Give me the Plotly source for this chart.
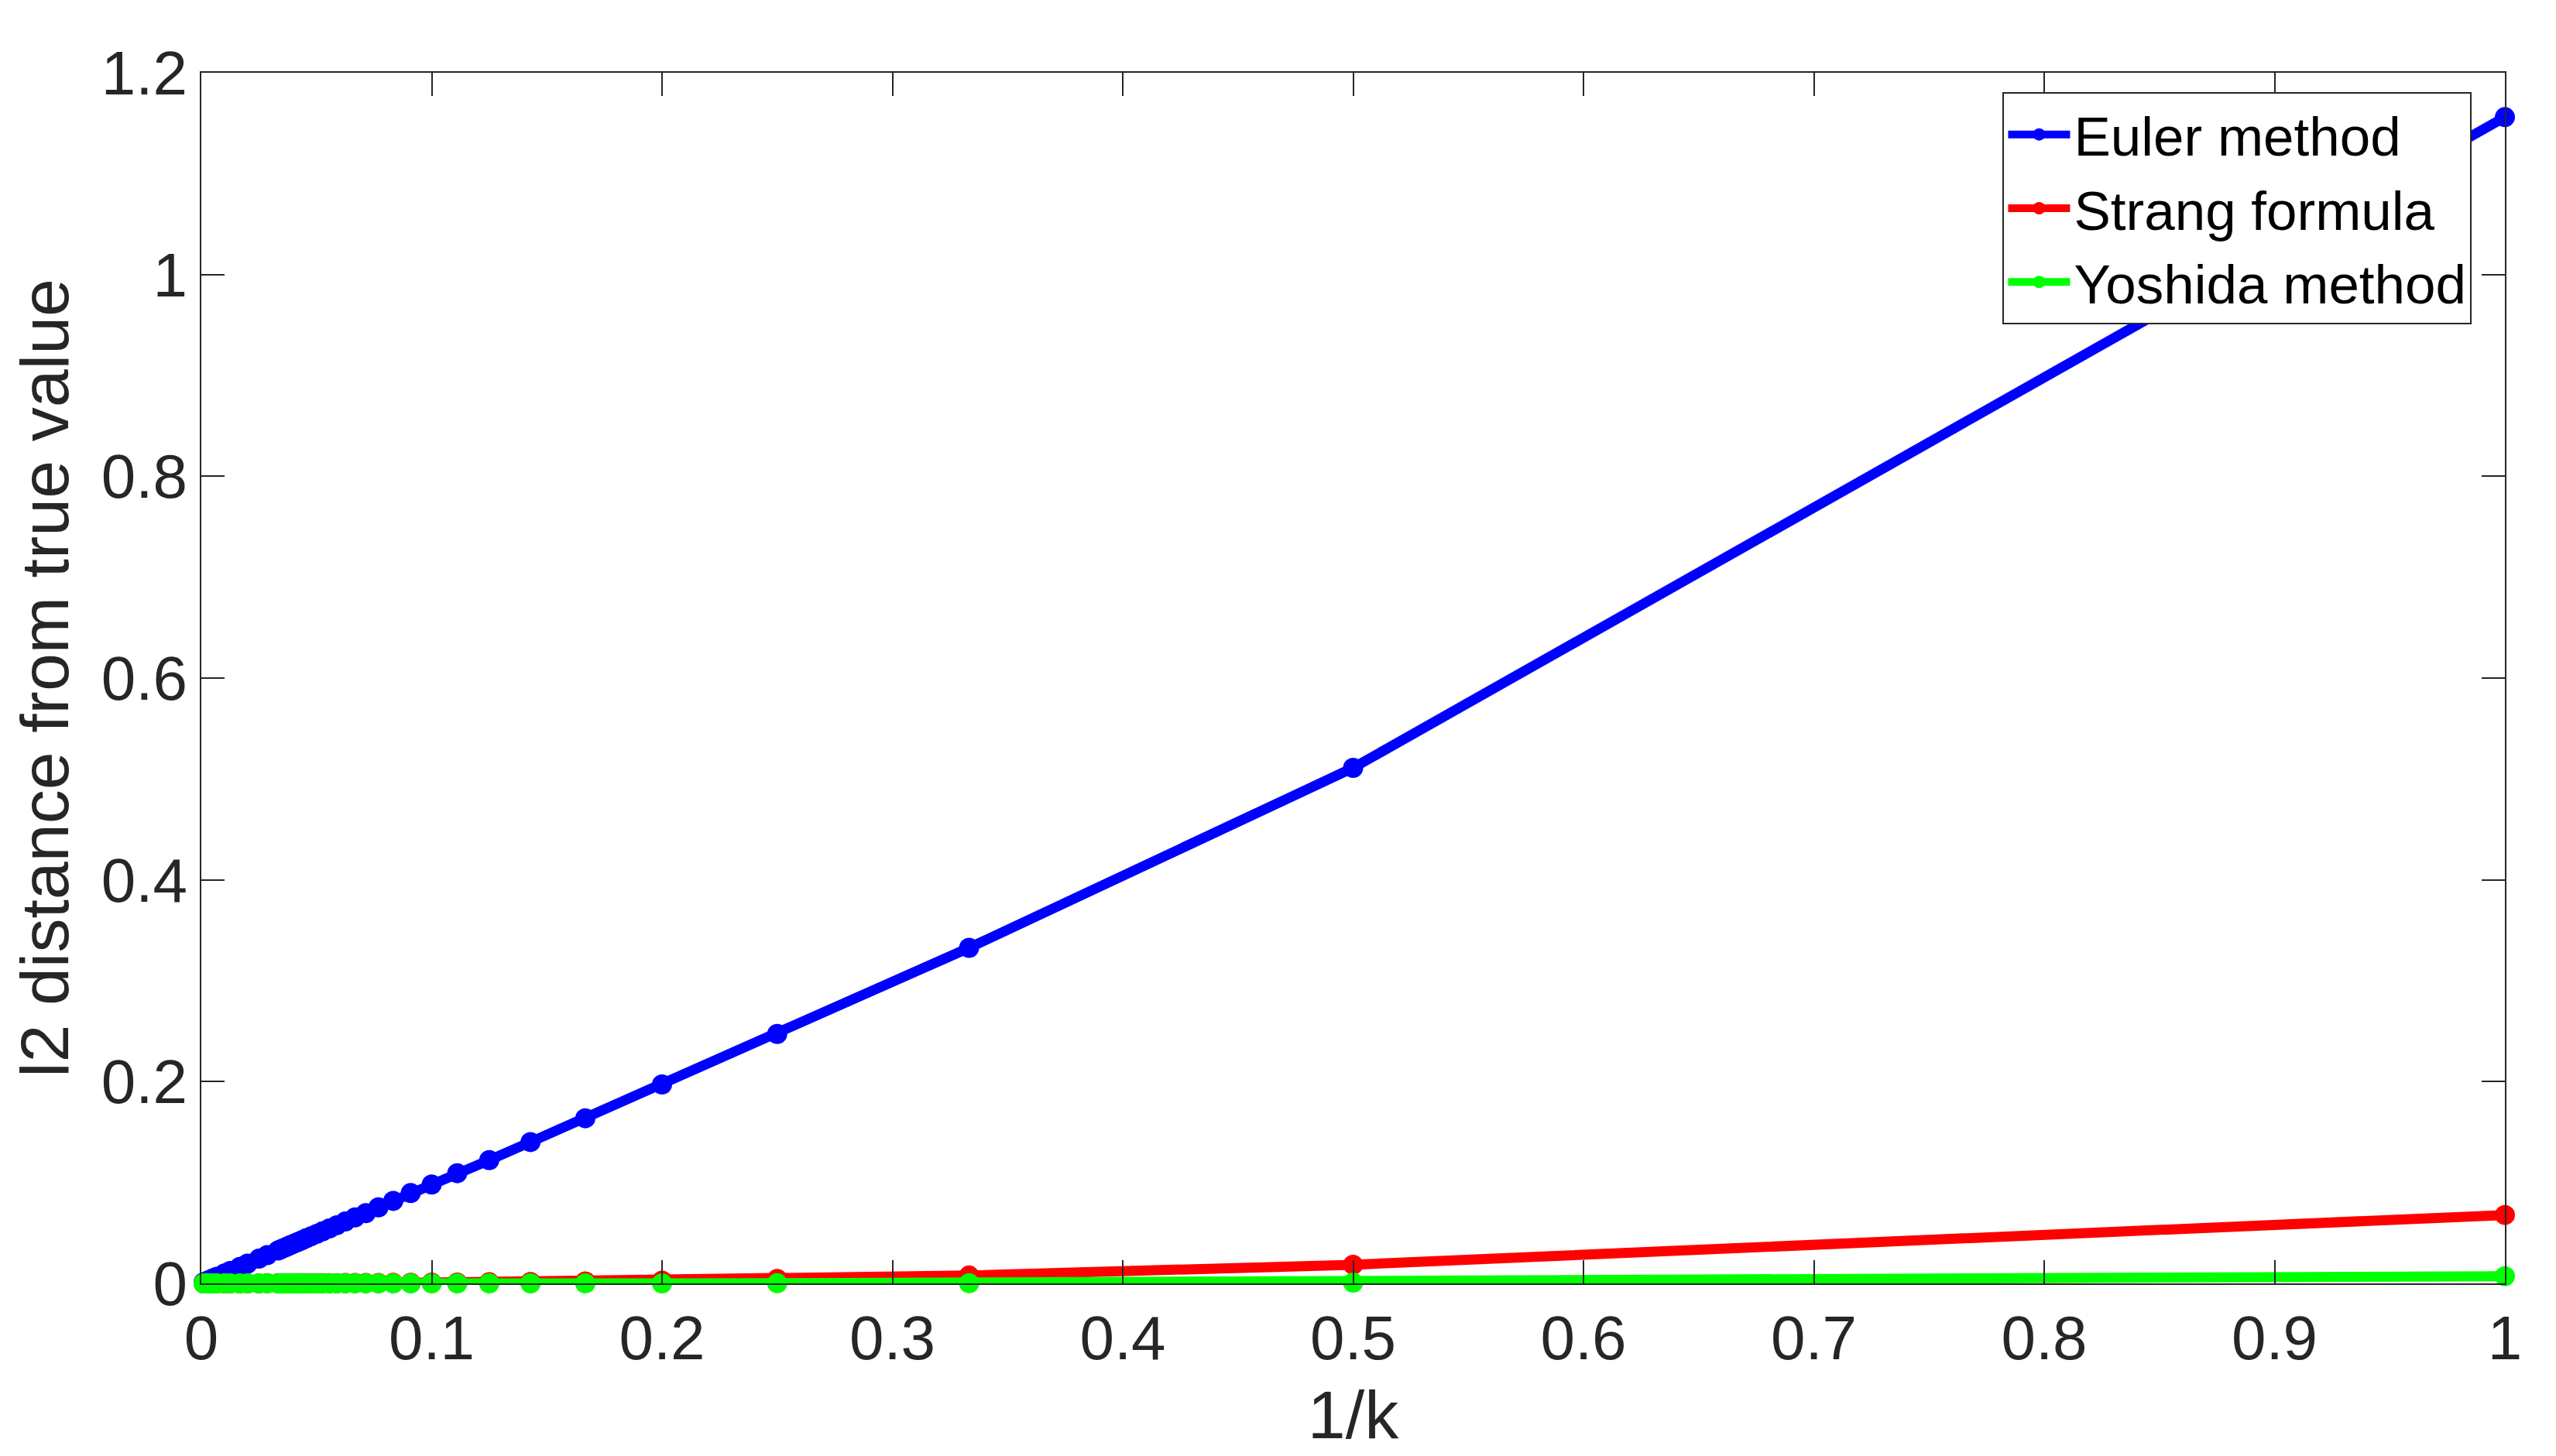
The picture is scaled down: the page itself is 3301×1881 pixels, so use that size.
import plotly.graph_objects as go

# 1/k values (k = 1..30, then a sparser tail towards 0)
inv_k = [1.0, 0.5, 0.3333, 0.25, 0.2, 0.1667, 0.1429, 0.125, 0.1111, 0.1,
         0.0909, 0.0833, 0.0769, 0.0714, 0.0667, 0.0625, 0.0588, 0.0556, 0.0526, 0.05,
         0.0476, 0.0455, 0.0435, 0.0417, 0.04, 0.0385, 0.037, 0.0357, 0.0345, 0.0333,
         0.0286, 0.025, 0.02, 0.0167, 0.0125, 0.01, 0.0067, 0.005, 0.0033, 0.002, 0.001]

euler = [1.156, 0.511, 0.3326, 0.2473, 0.1972, 0.1637, 0.1401, 0.1222, 0.1092, 0.098,
         0.0895, 0.0818, 0.0754, 0.0696, 0.0654, 0.0613, 0.0576, 0.0545, 0.0516, 0.049,
         0.0467, 0.0446, 0.0426, 0.0409, 0.0392, 0.0377, 0.0363, 0.035, 0.0338, 0.0326,
         0.028, 0.0245, 0.0196, 0.0164, 0.0123, 0.0098, 0.0066, 0.0049, 0.0032, 0.002, 0.001]

strang = [0.0678, 0.0185, 0.0078, 0.0045, 0.0027, 0.0019, 0.0014, 0.0011, 0.0008, 0.0007,
          0.0006, 0.0005, 0.0004, 0.0003, 0.0003, 0.0003, 0.0002, 0.0002, 0.0002, 0.0002,
          0.0002, 0.0001, 0.0001, 0.0001, 0.0001, 0.0001, 0.0001, 0.0001, 0.0001, 0.0001,
          0.0001, 0.0, 0.0, 0.0, 0.0, 0.0, 0.0, 0.0, 0.0, 0.0, 0.0]

yoshida = [0.0071, 0.0008, 0.0002, 0.0001, 0.0, 0.0, 0.0, 0.0, 0.0, 0.0,
           0.0, 0.0, 0.0, 0.0, 0.0, 0.0, 0.0, 0.0, 0.0, 0.0,
           0.0, 0.0, 0.0, 0.0, 0.0, 0.0, 0.0, 0.0, 0.0, 0.0,
           0.0, 0.0, 0.0, 0.0, 0.0, 0.0, 0.0, 0.0, 0.0, 0.0, 0.0]

nombres = ["Euler method", "Strang formula", "Yoshida method"]
colores = ["#0000FF", "#FF0000", "#00FF00"]

FUENTE = "Liberation Sans, Arial, Helvetica, sans-serif"
GRIS = "#262626"

fig = go.Figure()
for serie, nombre, color in zip([euler, strang, yoshida], nombres, colores):
    fig.add_trace(go.Scatter(x=inv_k, y=serie, name=nombre, mode="lines+markers",
                             line=dict(color=color, width=13),
                             marker=dict(color=color, size=26),
                             cliponaxis=False))

ejes = dict(showline=True, linecolor=GRIS, linewidth=2, mirror="ticks",
            ticks="inside", ticklen=30, tickwidth=2, tickcolor=GRIS,
            showgrid=False, zeroline=False, automargin=False,
            tickfont=dict(family=FUENTE, size=80, color=GRIS))

fig.update_xaxes(range=[0, 1], dtick=0.1, title=dict(text="1/k", standoff=24,
                 font=dict(family=FUENTE, size=88, color=GRIS)), **ejes)
fig.update_yaxes(range=[0, 1.2], dtick=0.2, title=dict(text="l2 distance from true value", standoff=30,
                 font=dict(family=FUENTE, size=88, color=GRIS)), **ejes)

fig.update_layout(width=3301, height=1881,
                  margin=dict(l=252, r=74, t=86, b=231, autoexpand=False),
                  plot_bgcolor="white", paper_bgcolor="white",
                  font=dict(family=FUENTE, color=GRIS),
                  legend=dict(x=0.782, y=0.984, xanchor="left", yanchor="top",
                              bgcolor="white", bordercolor=GRIS, borderwidth=2,
                              itemwidth=80, tracegroupgap=0,
                              font=dict(family=FUENTE, size=71, color="black")),
                  showlegend=True)

fig.write_html("out.html")
